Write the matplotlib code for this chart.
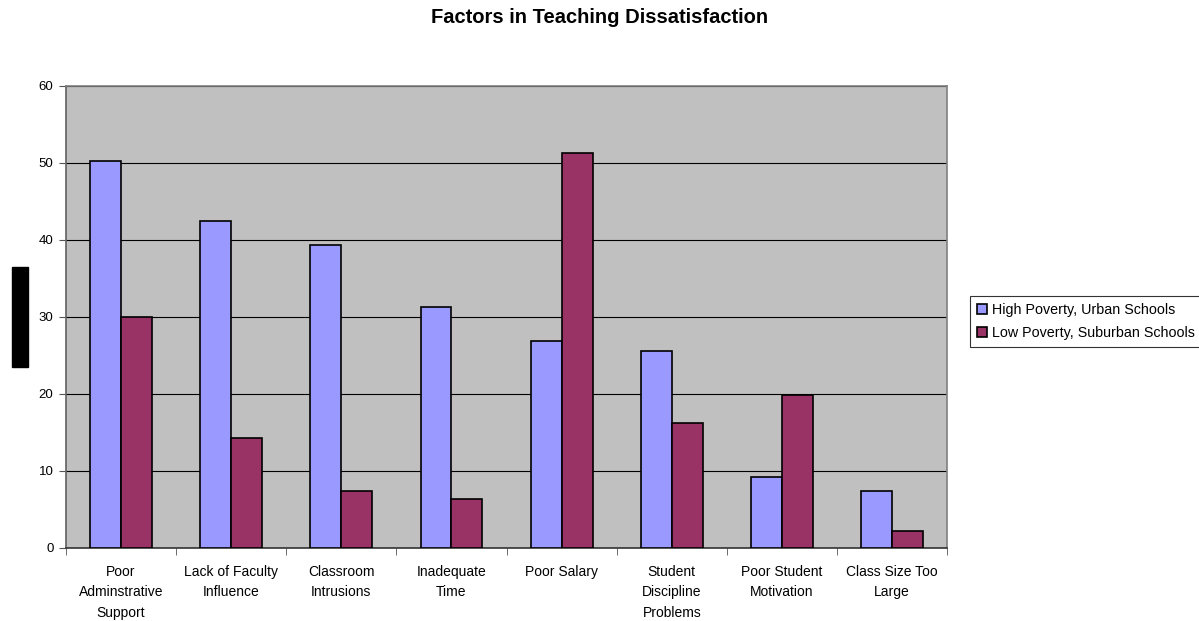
import matplotlib.pyplot as plt
import numpy as np
from matplotlib.patches import Rectangle

plt.rcParams['font.family'] = ['Liberation Sans', 'DejaVu Sans']

categories = ['Poor\nAdminstrative\nSupport', 'Lack of Faculty\nInfluence', 'Classroom\nIntrusions',
              'Inadequate\nTime', 'Poor Salary', 'Student\nDiscipline\nProblems',
              'Poor Student\nMotivation', 'Class Size Too\nLarge']
urban = [50.3, 42.5, 39.4, 31.3, 26.9, 25.6, 9.2, 7.4]
suburban = [30.0, 14.3, 7.4, 6.4, 51.3, 16.2, 19.9, 2.2]
series_names = ['High Poverty, Urban Schools', 'Low Poverty, Suburban Schools']
yticks = [0, 10, 20, 30, 40, 50, 60]

fig = plt.figure(figsize=(11.99, 6.21), dpi=100)
ax = fig.add_axes([0.055, 0.1176, 0.735, 0.744])
ax.set_facecolor('#c0c0c0')

x = np.arange(len(categories))
w = 0.28
ax.bar(x - w / 2, urban, w, color='#9999ff', edgecolor='black', linewidth=1.2, label=series_names[0], zorder=3)
ax.bar(x + w / 2, suburban, w, color='#993366', edgecolor='black', linewidth=1.2, label=series_names[1], zorder=3)

ax.set_xlim(-0.5, len(categories) - 0.5)
ax.set_ylim(0, 60)
ax.set_yticks(yticks)
ax.yaxis.grid(True, color='black', linewidth=0.8, zorder=1)
ax.set_axisbelow(True)

# category labels centred, tick marks between groups
ax.set_xticks(x)
ax.set_xticklabels(categories, fontsize=10, linespacing=1.6)
ax.tick_params(axis='x', length=0, pad=12)
ax.set_xticks(np.arange(len(categories) + 1) - 0.5, minor=True)
ax.tick_params(axis='x', which='minor', length=5, direction='out', color='#555555')
ax.tick_params(axis='y', length=5, direction='out', labelsize=9.5, color='#555555', pad=4)

ax.spines['top'].set_color('#808080')
ax.spines['right'].set_color('#808080')
ax.spines['left'].set_color('#606060')
ax.spines['bottom'].set_color('#333333')
for s in ax.spines.values():
    s.set_linewidth(1.2)

fig.text(0.5, 0.987, 'Factors in Teaching Dissatisfaction', ha='center', va='top',
         fontsize=14.5, fontweight='bold')

# axis title box on the left
fig.patches.append(Rectangle((12 / 1199, 1 - 367 / 621), 16 / 1199, 100 / 621,
                             transform=fig.transFigure, color='black'))

leg = fig.legend(loc='upper left', bbox_to_anchor=(963 / 1199, 1 - 289 / 621), fontsize=10.3,
                 frameon=True, fancybox=False, edgecolor='black', handlelength=0.7, handleheight=0.7,
                 handletextpad=0.3, borderpad=0.5, labelspacing=0.6)
leg.get_frame().set_linewidth(0.8)

fig.savefig('out.png', dpi=100)
